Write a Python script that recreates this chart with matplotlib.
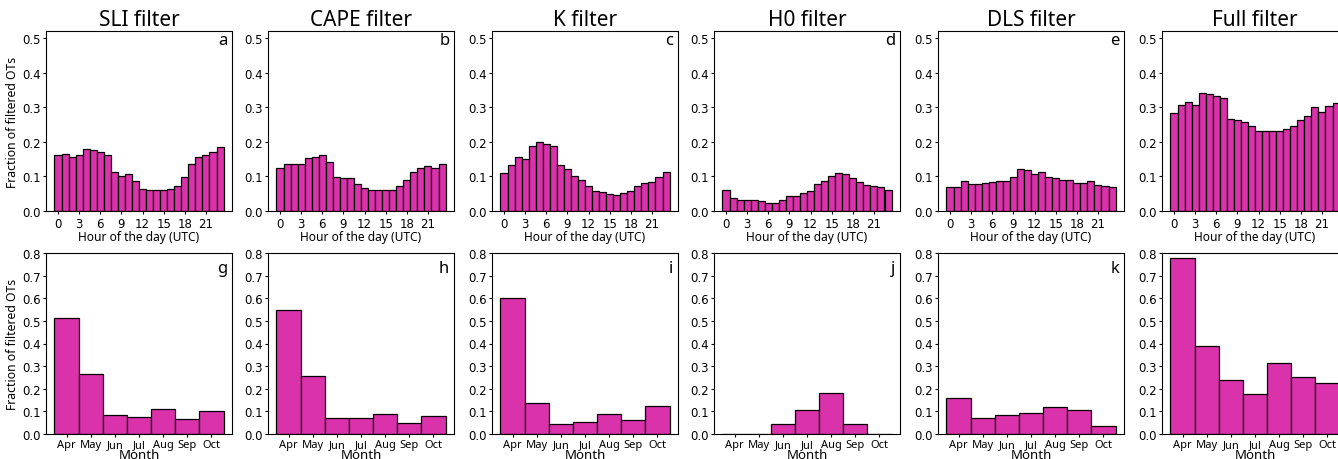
import matplotlib.pyplot as plt
import numpy as np

# valori
filtri = ["SLI filter", "CAPE filter", "K filter", "H0 filter", "DLS filter", "Full filter"]
lettere_ore = ["a", "b", "c", "d", "e", "f"]
lettere_mesi = ["g", "h", "i", "j", "k", "l"]

ore = np.arange(24)
mesi = ["Apr", "May", "Jun", "Jul", "Aug", "Sep", "Oct"]

sli_ore = [0.162, 0.165, 0.155, 0.161, 0.178, 0.175, 0.170, 0.161, 0.113, 0.102, 0.107, 0.087,
           0.063, 0.060, 0.060, 0.060, 0.063, 0.073, 0.099, 0.135, 0.156, 0.161, 0.171, 0.186]
cape_ore = [0.125, 0.135, 0.137, 0.137, 0.152, 0.155, 0.162, 0.141, 0.097, 0.096, 0.094, 0.079,
            0.066, 0.060, 0.061, 0.061, 0.061, 0.073, 0.091, 0.113, 0.125, 0.131, 0.125, 0.137]
k_ore = [0.109, 0.133, 0.157, 0.149, 0.189, 0.198, 0.194, 0.189, 0.133, 0.120, 0.102, 0.089,
         0.073, 0.057, 0.055, 0.050, 0.046, 0.053, 0.059, 0.073, 0.081, 0.083, 0.097, 0.112]
h0_ore = [0.062, 0.038, 0.032, 0.032, 0.033, 0.028, 0.022, 0.022, 0.031, 0.042, 0.042, 0.051,
          0.059, 0.078, 0.086, 0.100, 0.111, 0.108, 0.094, 0.083, 0.074, 0.071, 0.069, 0.061]
dls_ore = [0.068, 0.068, 0.088, 0.078, 0.077, 0.081, 0.084, 0.088, 0.088, 0.099, 0.120, 0.118,
           0.107, 0.112, 0.097, 0.094, 0.089, 0.091, 0.082, 0.080, 0.086, 0.076, 0.071, 0.068]
full_ore = [0.282, 0.305, 0.315, 0.306, 0.340, 0.339, 0.332, 0.326, 0.267, 0.263, 0.258, 0.247,
            0.232, 0.230, 0.230, 0.230, 0.238, 0.246, 0.262, 0.275, 0.300, 0.287, 0.304, 0.313]

sli_mesi = [0.512, 0.265, 0.085, 0.076, 0.109, 0.065, 0.100]
cape_mesi = [0.546, 0.257, 0.072, 0.072, 0.090, 0.049, 0.078]
k_mesi = [0.600, 0.135, 0.043, 0.053, 0.087, 0.060, 0.124]
h0_mesi = [0.0, 0.0, 0.043, 0.104, 0.181, 0.043, 0.0]
dls_mesi = [0.157, 0.069, 0.084, 0.091, 0.118, 0.104, 0.037]
full_mesi = [0.779, 0.390, 0.237, 0.179, 0.313, 0.254, 0.225]

dati_ore = [sli_ore, cape_ore, k_ore, h0_ore, dls_ore, full_ore]
dati_mesi = [sli_mesi, cape_mesi, k_mesi, h0_mesi, dls_mesi, full_mesi]

colore = "#da32aa"
testo = ["Noto Sans", "DejaVu Sans"]

W, H = 1338, 460
fig = plt.figure(figsize=(W / 100, H / 100), dpi=100)

# posizioni in pixel (l'ultimo pannello esce dal bordo destro, come nell'originale)
sinistre = [46, 268, 492, 714, 938, 1162]
larghezza = 186

for i in range(6):
    # riga sopra: ore
    ax = fig.add_axes([sinistre[i] / W, (H - 212) / H, larghezza / W, 180 / H])
    ax.bar(ore, dati_ore[i], width=1.0, color=colore, edgecolor="black", linewidth=0.9)
    ax.set_ylim(0, 0.52)
    ax.set_yticks(np.arange(0, 0.51, 0.1))
    ax.set_xticks(np.arange(0, 22, 3))
    ax.tick_params(labelsize=8.5, length=2.5, pad=1.5)
    ax.set_title(filtri[i], fontsize=15, family=testo, pad=4)
    ax.set_xlabel("Hour of the day (UTC)", fontsize=8.6, family=testo, labelpad=0)
    ax.text(0.975, 0.995, lettere_ore[i], transform=ax.transAxes, ha="right", va="top",
            fontsize=12, family=testo)
    if i == 0:
        ax.set_ylabel("Fraction of filtered OTs", fontsize=8.8, family=testo, labelpad=2)

    # riga sotto: mesi
    ax2 = fig.add_axes([sinistre[i] / W, (H - 435) / H, larghezza / W, 181 / H])
    ax2.bar(np.arange(len(mesi)), dati_mesi[i], width=1.0, color=colore, edgecolor="black", linewidth=0.9)
    ax2.set_ylim(0, 0.8)
    ax2.set_yticks(np.arange(0, 0.81, 0.1))
    ax2.set_xticks(np.arange(len(mesi)))
    ax2.set_xticklabels(mesi, fontsize=8, family=testo)
    ax2.tick_params(axis="y", labelsize=8.5, length=2.5, pad=1.5)
    ax2.tick_params(axis="x", length=2.5, pad=1.0)
    ax2.set_xlabel("Month", fontsize=9.5, family=testo, labelpad=-1)
    ax2.text(0.975, 0.96, lettere_mesi[i], transform=ax2.transAxes, ha="right", va="top",
             fontsize=12, family=testo)
    if i == 0:
        ax2.set_ylabel("Fraction of filtered OTs", fontsize=8.8, family=testo, labelpad=2)

fig.savefig("out.png", dpi=100)
